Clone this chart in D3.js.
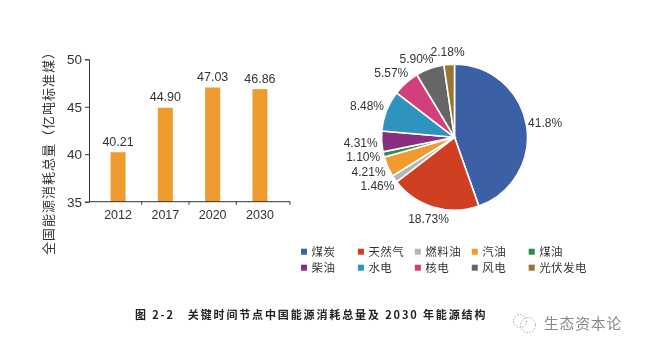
<!DOCTYPE html>
<html><head><meta charset="utf-8">
<script src="https://cdn.jsdelivr.net/npm/d3@7"></script>
<style>html,body{margin:0;padding:0;background:#fff}svg{display:block;filter:blur(.35px)}
text{font-family:"Liberation Sans",Arial,sans-serif;fill:#333}
.cjk{font-family:"Noto Sans CJK SC",sans-serif}</style></head><body>
<script>
const years = ["2012","2017","2020","2030"];
const totals = [40.21,44.90,47.03,46.86];
const totalLabels = ["40.21","44.90","47.03","46.86"];
const yTicks = [35,40,45,50];
const sources = ["煤炭","天然气","燃料油","汽油","煤油","柴油","水电","核电","风电","光伏发电"];
const shares = [41.8,18.73,1.46,4.21,1.10,4.31,8.48,5.57,5.90,2.18];
const shareLabels = ["41.8%","18.73%","1.46%","4.21%","1.10%","4.31%","8.48%","5.57%","5.90%","2.18%"];
const colors = ["#3c60a5","#d13f23","#b5b5b5","#ef9b2d","#2f8b4d","#8a2f80","#2f93bf","#d23f7c","#666666","#9a7430"];
const yTitle = "全国能源消耗总量（亿吨标准煤）";
const caption = "图 2-2　关键时间节点中国能源消耗总量及 2030 年能源结构";
const brand = "生态资本论";

const svg = d3.select("body").append("svg").attr("width",646).attr("height",350);

// bars
const x = d3.scaleBand().domain(years).range([94.4,283.6]).paddingInner(0.683).paddingOuter(0.342);
const y = d3.scaleLinear().domain([35,50]).range([201.7,59.3]);
svg.selectAll("rect.bar").data(years).join("rect").attr("class","bar")
  .attr("x",d=>x(d)).attr("width",x.bandwidth())
  .attr("y",(d,i)=>y(totals[i])).attr("height",(d,i)=>y(35)-y(totals[i])).attr("fill","#ee9a2e");
const yAxis = svg.append("g").attr("transform","translate(89,0)")
  .call(d3.axisLeft(y).tickValues(yTicks).tickSize(4).tickPadding(3));
yAxis.selectAll("text").attr("font-size",13.5).style("font-family",'"Liberation Sans",sans-serif').attr("fill","#333");
yAxis.selectAll("line,path").attr("stroke","#333");
const xAxis = svg.append("g").attr("transform","translate(0,201.7)")
  .call(d3.axisBottom(x).tickSize(0).tickPadding(8));
xAxis.select("path").attr("d","M89,0H290").attr("stroke","#333");
xAxis.selectAll("text").attr("font-size",12.5).style("font-family",'"Liberation Sans",sans-serif').attr("fill","#333");
years.slice(1).concat("end").forEach(d=>{
  const px = d==="end" ? 290 : x(d)-(x.step()-x.bandwidth())/2;
  xAxis.append("line").attr("x1",px).attr("x2",px).attr("y1",0).attr("y2",3).attr("stroke","#333");
});
svg.selectAll("text.val").data(totalLabels).join("text").attr("class","val")
  .attr("x",(d,i)=>x(years[i])+x.bandwidth()/2).attr("y",(d,i)=>y(totals[i])-6.5)
  .attr("text-anchor","middle").attr("font-size",12.5).text(d=>d);
svg.append("text").attr("class","cjk").attr("transform","translate(53,150) rotate(-90)")
  .attr("text-anchor","middle").attr("font-size",13).attr("letter-spacing",1).text(yTitle);

// pie
const cx=454.5, cy=137.3, R=73;
const pie = d3.pie().sort(null)(shares);
const arc = d3.arc().innerRadius(0).outerRadius(R);
const labelArc = d3.arc().innerRadius(95).outerRadius(95);
const labelNudge = [[-3,2],[1,-10],[1,-5.5],[1,-3.5],[1,-3],[1,0],[1,3],[0,6.5],[-6,11],[0,9.5]];
const g = svg.append("g").attr("transform",`translate(${cx},${cy})`);
g.selectAll("path").data(pie).join("path").attr("d",arc)
  .attr("fill",(d,i)=>colors[i]).attr("stroke","#fff").attr("stroke-width",1.6);
g.selectAll("text").data(pie).join("text")
  .attr("transform",(d,i)=>{const c=labelArc.centroid(d);return `translate(${c[0]+labelNudge[i][0]},${c[1]+labelNudge[i][1]})`;})
  .attr("text-anchor","middle").attr("dy","0.35em").attr("font-size",12).text((d,i)=>shareLabels[i]);

// legend
const legX = d3.scalePoint().domain(d3.range(5)).range([304,531.7]);
const legY = d3.scalePoint().domain([0,1]).range([251.7,267.7]);
const leg = svg.selectAll("g.leg").data(sources).join("g").attr("class","leg")
  .attr("transform",(d,i)=>`translate(${legX(i%5)},${legY(Math.floor(i/5))})`);
leg.append("rect").attr("x",-3).attr("y",-3).attr("width",6).attr("height",6).attr("fill",(d,i)=>colors[i]);
leg.append("text").attr("class","cjk").attr("x",7.5).attr("dy","0.36em").attr("font-size",11.5)
  .attr("letter-spacing",0.4).attr("fill","#444").text(d=>d);

// caption
svg.append("text").attr("class","cjk").attr("x",135).attr("y",319).attr("font-size",11)
  .attr("font-weight",700).attr("letter-spacing",1.87).style("fill","#222").text(caption);

// watermark
const wm = svg.append("g").attr("transform","translate(524,323)").attr("fill","none").attr("stroke","#aaa").attr("stroke-dasharray","1.5 1.5");
wm.append("circle").attr("cx",-4).attr("cy",-2).attr("r",6.5);
wm.append("circle").attr("cx",4).attr("cy",2).attr("r",7.5);
svg.append("text").attr("class","cjk").attr("x",544).attr("y",328.5).attr("font-size",14.8)
  .attr("letter-spacing",0.8).style("fill","#888").text(brand);
</script></body></html>
